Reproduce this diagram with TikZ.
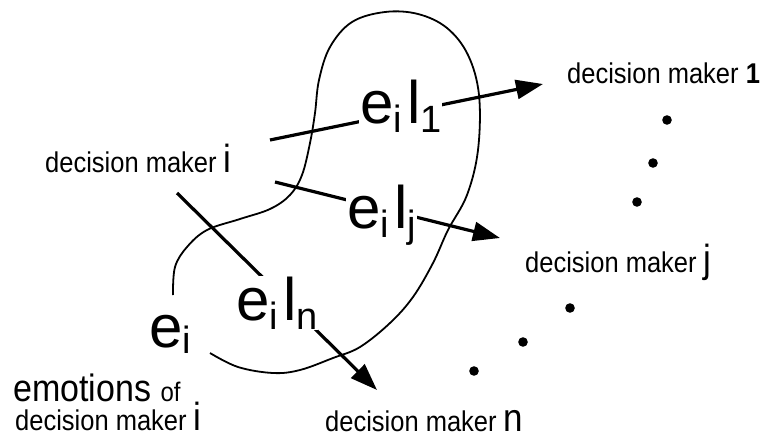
\documentclass[tikz,border=0pt]{standalone}
\usepackage{fontspec}
\setmainfont{Liberation Sans}
\usetikzlibrary{arrows.meta}

% big letter at the end of a label
\newcommand{\bigch}[1]{{\fontsize{35}{35}\selectfont #1}}
% letters a little taller than wide, as in the scan
\newcommand{\tall}[1]{\scalebox{1}[1.12]{#1}}
% emotion of i towards k
\newcommand{\emolink}[1]{\fontsize{60}{60}\selectfont e\raisebox{-9pt}{\fontsize{38}{38}\selectfont i}\hspace{5pt}l\raisebox{-9pt}{\fontsize{38}{38}\selectfont #1}}
\newcommand{\emoself}{\fontsize{60}{60}\selectfont e\raisebox{-6pt}{\fontsize{38}{38}\selectfont i}}

\begin{document}
\begin{tikzpicture}[x=1pt, y=-1pt,
    plain/.style={inner sep=0pt, font=\fontsize{25.5}{30}\selectfont},
    emolabel/.style={inner sep=1pt, fill=white},
    link/.style={line width=3.2pt, -{Triangle[length=27pt,width=19pt]}},
    blob/.style={line width=1.8pt}]

    \useasboundingbox (0,0) rectangle (762,439);

    % Draw region of emotions
    \draw[blob] plot[smooth, tension=0.6] coordinates {
        (173,295) (175,267) (187,247) (207,230) (240,219) (270,209) (290,195)
        (302,175) (310,143) (315,113) (319,80) (330,47) (352,22) (385,12)
        (418,14) (447,28) (468,55) (479,95) (478,150) (467,195) (448,230)
        (433,263) (413,297) (390,323) (360,347) (333,358) (300,370) (273,373)
        (238,367) (210,353)};

    % Decision makers
    \node[plain, anchor=base west] (dmi) at (45,172) {\tall{decision maker \bigch{i}}};
    \node[plain, anchor=base west] (dm1) at (567,83) {\tall{decision maker {\bfseries 1}}};
    \node[plain, anchor=base west] (dmj) at (525,272) {\tall{decision maker \bigch{j}}};
    \node[plain, anchor=base west] (dmn) at (325,431) {\tall{decision maker \bigch{n}}};
    \node[plain, anchor=base west] (emo) at (13,401) {\tall{\fontsize{34}{34}\selectfont emotions {\fontsize{24}{24}\selectfont of}}};
    \node[plain, anchor=base west] (emodm) at (15,430) {\tall{decision maker \bigch{i}}};

    % Dots between decision makers
    \foreach \px/\py in {667/120, 653/163, 637/202, 570/308, 523/342, 474/371}
        \fill (\px,\py) circle (4.8pt);

    % Ends of the links
    \coordinate (s1) at (270,140);
    \coordinate (t1) at (543,84);
    \coordinate (sj) at (275,182);
    \coordinate (tj) at (500,238);
    \coordinate (sn) at (177,193);
    \coordinate (tn) at (377,390);

    % Draw links
    \draw[link] (s1) -- (t1);
    \draw[link] (sj) -- (tj);
    \draw[link] (sn) -- (tn);

    % Emotion labels
    \node[emolabel, anchor=base west] (e1) at (359,123) {\emolink{1}};
    \node[emolabel, anchor=base west] (ej) at (346,228) {\emolink{j}};
    \node[emolabel, anchor=base west] (en) at (235,320) {\emolink{n}};
    \node[inner sep=1pt, anchor=base west] (eself) at (148,347) {\emoself};

\end{tikzpicture}
\end{document}
